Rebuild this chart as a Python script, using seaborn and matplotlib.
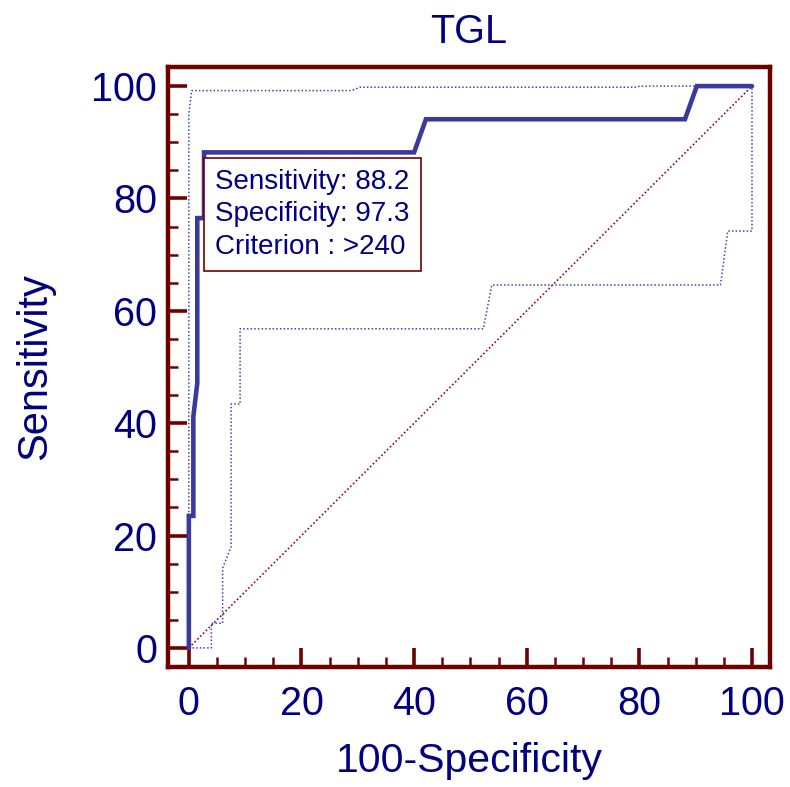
import matplotlib
matplotlib.use("Agg")
import matplotlib.pyplot as plt
import seaborn as sns
import pandas as pd
from matplotlib.ticker import MultipleLocator

# ---- data ----
roc_x = [0, 0, 0.8, 0.8, 1.5, 1.5, 2.7, 2.7, 40.0, 42.1, 88.1, 90.2, 100]
roc_y = [0, 23.5, 23.5, 41.2, 47.1, 76.5, 76.5, 88.2, 88.2, 94.1, 94.1, 100, 100]

upper_x = [0, 0, 0.5, 28.9, 30.4, 79.5, 80.1, 100]
upper_y = [0, 95.1, 99.2, 99.2, 99.8, 99.8, 100, 100]

lower_x = [0, 4.0, 4.0, 6.0, 6.0, 7.5, 7.5, 9.1, 9.1, 52.3, 53.8, 94.4, 95.7, 100, 100]
lower_y = [0, 0, 4.4, 4.4, 14.2, 18.0, 43.4, 43.4, 56.8, 56.8, 64.6, 64.6, 74.2, 74.2, 100]

diag_x = [0, 100]
diag_y = [0, 100]

sensitivity = 88.2
specificity = 97.3
criterion = ">240"

x_ticks = [0, 20, 40, 60, 80, 100]
y_ticks = [0, 20, 40, 60, 80, 100]

title = "TGL"
xlabel = "100-Specificity"
ylabel = "Sensitivity"

# ---- style ----
sns.set_style("white")
plt.rcParams["font.family"] = ["Liberation Sans", "DejaVu Sans"]

MAROON = "#6e0000"
NAVY = "#000080"
CURVE = "#3a3a9e"

fig = plt.figure(figsize=(7.9, 7.87), dpi=100)
ax = fig.add_axes([168 / 790, 1 - 667 / 787, (770 - 168) / 790, (667 - 67) / 787])

df_roc = pd.DataFrame({"x": roc_x, "y": roc_y})
df_up = pd.DataFrame({"x": upper_x, "y": upper_y})
df_lo = pd.DataFrame({"x": lower_x, "y": lower_y})
df_dg = pd.DataFrame({"x": diag_x, "y": diag_y})

sns.lineplot(data=df_dg, x="x", y="y", ax=ax, sort=False, estimator=None,
             color="#8b1010", lw=1.2, linestyle=(0, (1, 1.4)))
sns.lineplot(data=df_up, x="x", y="y", ax=ax, sort=False, estimator=None,
             color="#4444aa", lw=1.1, linestyle=(0, (1, 1.4)))
sns.lineplot(data=df_lo, x="x", y="y", ax=ax, sort=False, estimator=None,
             color="#4444aa", lw=1.1, linestyle=(0, (1, 1.4)))
sns.lineplot(data=df_roc, x="x", y="y", ax=ax, sort=False, estimator=None,
             color=CURVE, lw=3.3, solid_joinstyle="miter", solid_capstyle="round")

ax.set_xlim(-3.7, 103.2)
ax.set_ylim(-3.4, 103.4)

ax.xaxis.set_major_locator(MultipleLocator(20))
ax.xaxis.set_minor_locator(MultipleLocator(5))
ax.yaxis.set_major_locator(MultipleLocator(20))
ax.yaxis.set_minor_locator(MultipleLocator(5))
ax.set_xticks(x_ticks)
ax.set_yticks(y_ticks)

for s in ax.spines.values():
    s.set_color(MAROON)
    s.set_linewidth(3.2)

ax.tick_params(axis="both", which="major", direction="in", length=14, width=2.6,
               color=MAROON, labelcolor=NAVY, labelsize=28.5)
ax.tick_params(axis="both", which="minor", direction="in", length=7.5, width=1.8,
               color=MAROON)
ax.tick_params(axis="x", which="both", bottom=True, top=False, pad=13)
ax.tick_params(axis="y", which="both", left=True, right=False, pad=8)

ax.set_title(title, color=NAVY, fontsize=28.5, pad=17)
ax.set_xlabel(xlabel, color=NAVY, fontsize=29.5, labelpad=14)
ax.set_ylabel(ylabel, color=NAVY, fontsize=30, labelpad=26)

# criterion box anchored at the optimal point
crit_x = 100 - specificity
crit_y = sensitivity
box_text = f"Sensitivity: {sensitivity}\nSpecificity: {specificity}\nCriterion : {criterion}"
fs = 20
padf = 0.40
ax.annotate(box_text, xy=(crit_x, crit_y), xytext=(padf * fs, -padf * fs - 3.8),
            textcoords="offset points", ha="left", va="top", fontsize=fs,
            color=NAVY, linespacing=1.33, zorder=5,
            bbox=dict(boxstyle=f"square,pad={padf}", fc="white", ec=MAROON, lw=1.2))

fig.savefig("out.png", dpi=100)
